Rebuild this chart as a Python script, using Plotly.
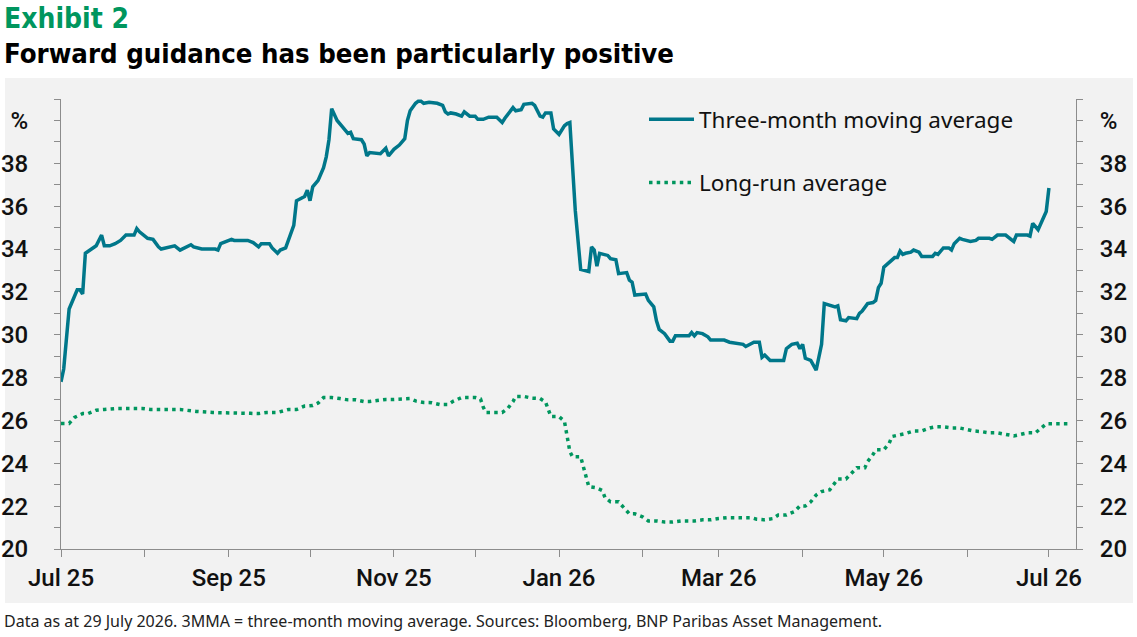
import pandas as pd
import plotly.graph_objects as go

# ---------------- data ----------------
START = "2025-07-01"  # day offsets below are days since this date

mma_day = [0, 1, 3, 6, 7, 8, 9, 11, 13, 15, 16, 18, 20, 22, 24, 27, 28, 29, 32, 34,
           36, 37, 42, 44, 48, 49, 52, 57, 58, 59, 63, 64, 69, 71, 73, 74, 77, 78, 79, 80,
           81, 83, 86, 87, 90, 91, 92, 93, 95, 97, 98, 99, 100, 102, 104, 106, 107, 108, 111, 112,
           113, 114, 118, 120, 121, 123, 125, 127, 128, 129, 131, 132, 133, 134, 136, 139, 141, 142, 143, 144,
           146, 148, 149, 151, 153, 154, 156, 158, 161, 163, 164, 167, 168, 170, 171, 174, 175, 177, 178, 179,
           181, 182, 184, 186, 187, 188, 190, 192, 195, 196, 197, 198, 199, 202, 203, 205, 206, 209, 210, 211,
           212, 216, 217, 219, 220, 221, 223, 225, 226, 227, 232, 233, 234, 235, 237, 239, 240, 245, 247, 251,
           252, 253, 256, 258, 259, 260, 262, 267, 268, 270, 272, 273, 274, 275, 277, 279, 281, 282, 286, 287,
           288, 290, 291, 294, 295, 296, 298, 300, 301, 302, 303, 304, 306, 308, 309, 310, 311, 312, 314, 315,
           317, 318, 322, 323, 324, 326, 328, 329, 330, 331, 332, 333, 336, 338, 339, 343, 344, 346, 349, 351,
           352, 353, 357, 358, 359, 361, 363, 364, 365]
mma_val = [27.8, 28.4, 31.2, 32.1, 32.1, 31.9, 33.8, 34.0, 34.15, 34.65, 34.15, 34.15, 34.25, 34.4, 34.65, 34.65, 34.95, 34.8, 34.5, 34.45,
           34.1, 34.0, 34.15, 33.95, 34.2, 34.1, 34.0, 34.0, 33.95, 34.25, 34.45, 34.4, 34.4, 34.3, 34.1, 34.25, 34.25, 34.05, 33.95, 33.8,
           33.95, 34.05, 35.1, 36.25, 36.45, 36.75, 36.25, 36.9, 37.2, 37.8, 38.3, 39.1, 40.55, 40.0, 39.7, 39.4, 39.45, 39.15, 39.1, 38.9,
           38.35, 38.5, 38.45, 38.7, 38.35, 38.65, 38.85, 39.15, 40.0, 40.45, 40.8, 40.9, 40.9, 40.8, 40.85, 40.8, 40.7, 40.4, 40.3, 40.35,
           40.3, 40.2, 40.4, 40.2, 40.2, 40.05, 40.05, 40.15, 40.15, 39.9, 40.1, 40.6, 40.45, 40.5, 40.75, 40.8, 40.7, 40.2, 40.15, 40.35,
           40.35, 39.6, 39.35, 39.75, 39.85, 39.9, 35.8, 33.05, 32.95, 34.1, 33.95, 33.2, 33.8, 33.7, 33.55, 33.5, 32.85, 32.9, 32.55, 32.45,
           31.85, 31.9, 31.6, 31.3, 30.65, 30.25, 30.05, 29.7, 29.7, 29.95, 29.95, 30.1, 29.95, 30.1, 30.05, 29.9, 29.75, 29.75, 29.65, 29.55,
           29.55, 29.45, 29.65, 29.65, 28.95, 29.05, 28.8, 28.8, 29.35, 29.55, 29.6, 29.35, 29.55, 28.9, 28.8, 28.35, 29.55, 31.45, 31.3, 31.35,
           30.7, 30.65, 30.8, 30.75, 31.0, 31.1, 31.45, 31.5, 31.6, 32.2, 32.4, 33.15, 33.35, 33.6, 33.6, 33.9, 33.75, 33.8, 33.85, 33.95,
           33.85, 33.65, 33.65, 33.8, 33.75, 34.05, 34.05, 33.95, 34.25, 34.35, 34.5, 34.45, 34.35, 34.4, 34.5, 34.5, 34.45, 34.65, 34.65, 34.45,
           34.35, 34.65, 34.65, 34.6, 35.2, 34.9, 35.45, 35.75, 36.85]

lr_day = [0, 3, 5, 8, 10, 13, 16, 21, 30, 33, 44, 47, 50, 56, 66, 70, 73, 76, 80, 82,
          84, 87, 90, 93, 95, 97, 100, 103, 106, 109, 112, 114, 117, 120, 123, 126, 129, 131, 134, 137,
          140, 143, 145, 148, 153, 155, 156, 157, 163, 165, 167, 168, 171, 174, 177, 179, 180, 181, 184, 186,
          188, 189, 192, 195, 198, 200, 201, 203, 206, 208, 210, 212, 215, 217, 220, 223, 226, 229, 234, 237,
          240, 243, 246, 255, 257, 260, 263, 265, 268, 271, 273, 275, 277, 279, 281, 284, 286, 287, 290, 292,
          294, 297, 298, 300, 301, 304, 306, 307, 310, 312, 315, 318, 321, 323, 326, 329, 332, 335, 337, 340,
          343, 346, 349, 352, 354, 357, 360, 362, 364, 373]
lr_val = [25.86, 25.86, 26.14, 26.32, 26.32, 26.48, 26.51, 26.56, 26.56, 26.51, 26.51, 26.46, 26.42, 26.37, 26.37, 26.33, 26.32, 26.37, 26.37, 26.44,
          26.51, 26.51, 26.67, 26.70, 26.81, 27.07, 27.07, 27.02, 26.96, 26.96, 26.88, 26.88, 26.94, 26.98, 26.98, 27.02, 27.02, 26.91, 26.84, 26.83,
          26.74, 26.74, 26.90, 27.07, 27.07, 27.0, 26.62, 26.37, 26.37, 26.55, 26.88, 27.12, 27.12, 27.04, 27.02, 26.86, 26.51, 26.18, 26.18, 25.96,
          24.55, 24.30, 24.30, 22.91, 22.85, 22.73, 22.40, 22.20, 22.20, 21.92, 21.64, 21.64, 21.49, 21.31, 21.31, 21.26, 21.26, 21.31, 21.31, 21.36,
          21.36, 21.42, 21.46, 21.46, 21.39, 21.36, 21.42, 21.59, 21.59, 21.75, 22.01, 22.01, 22.20, 22.52, 22.68, 22.76, 23.06, 23.27, 23.27, 23.55,
          23.79, 23.79, 24.08, 24.41, 24.63, 24.63, 24.94, 25.25, 25.33, 25.39, 25.51, 25.51, 25.65, 25.70, 25.70, 25.65, 25.65, 25.56, 25.51, 25.48,
          25.42, 25.42, 25.33, 25.28, 25.33, 25.42, 25.42, 25.64, 25.84, 25.84]

month_ticks = ["2025-07-01", "2025-08-01", "2025-09-01", "2025-10-01", "2025-11-01", "2025-12-01",
               "2026-01-01", "2026-02-01", "2026-03-01", "2026-04-01", "2026-05-01", "2026-06-01", "2026-07-01"]
month_labels = ["Jul 25", "", "Sep 25", "", "Nov 25", "", "Jan 26", "", "Mar 26", "", "May 26", "", "Jul 26"]

y_ticks = [20, 22, 24, 26, 28, 30, 32, 34, 36, 38, 40]
y_labels = ["20", "22", "24", "26", "28", "30", "32", "34", "36", "38", "%"]

x_range = ["2025-07-01", "2026-07-11"]
y_range = [20, 41]

# ---------------- build figure ----------------
start = pd.Timestamp(START)
mma_dates = [(start + pd.Timedelta(days=d)).strftime("%Y-%m-%d") for d in mma_day]
lr_dates = [(start + pd.Timedelta(days=d)).strftime("%Y-%m-%d") for d in lr_day]

TEAL = "#00778a"
GREEN = "#00965e"
GREY = "#8c8c8c"
BG = "#f2f2f2"
FONT = "Noto Sans, Open Sans, sans-serif"
TICKFONT = dict(family="Roboto, Noto Sans, sans-serif", size=24, color="#111111", weight=500)
NARROW = "Liberation Sans Narrow, Arial Narrow, DejaVu Sans Condensed, sans-serif"

fig = go.Figure()
fig.add_trace(go.Scatter(
    x=mma_dates, y=mma_val, mode="lines", name="Three-month moving average",
    line=dict(color=TEAL, width=3.5), legendgroup="a", yaxis="y"))
fig.add_trace(go.Scatter(
    x=lr_dates, y=lr_val, mode="lines", name="Long-run average",
    line=dict(color=GREEN, width=3.5, dash="3.5px,4.2px"), legendgroup="b", yaxis="y2"))

W, H = 1137, 637
ml, mr, mt, mb = 61, 61, 99, 88
pw, ph = W - ml - mr, H - mt - mb


def px_x(px):
    return (px - ml) / pw


def px_y(py):
    return (H - mb - py) / ph


axis_common = dict(
    range=y_range, tickvals=y_ticks, ticktext=y_labels,
    showline=True, linecolor=GREY, linewidth=1,
    ticks="outside", ticklen=6, tickcolor=GREY, tickwidth=1,
    minor=dict(dtick=1, tick0=20, ticks="outside", ticklen=6, tickcolor=GREY, tickwidth=1),
    showgrid=False, zeroline=False, fixedrange=True, automargin=False,
    tickfont=TICKFONT,
)

fig.update_layout(
    width=W, height=H,
    margin=dict(l=ml, r=mr, t=mt, b=mb, pad=0),
    paper_bgcolor="white", plot_bgcolor=BG,
    showlegend=True,
    legend=dict(x=px_x(644), y=px_y(98), xanchor="left", yanchor="top",
                bgcolor="rgba(0,0,0,0)", tracegroupgap=31, itemwidth=45,
                font=dict(family=FONT, size=22.5, color="#111111")),
    xaxis=dict(
        type="date", range=x_range, tickvals=month_ticks, ticktext=month_labels,
        showline=True, linecolor=GREY, linewidth=1,
        ticks="outside", ticklen=7, tickcolor=GREY,
        showgrid=False, zeroline=False, automargin=False, fixedrange=True,
        tickfont=TICKFONT,
    ),
    yaxis=dict(side="left", ticklabelstandoff=21, **axis_common),
    yaxis2=dict(side="right", overlaying="y", matches="y", ticklabelstandoff=12, **axis_common),
    shapes=[dict(type="rect", xref="paper", yref="paper", layer="below",
                 x0=px_x(5), x1=px_x(1133), y0=px_y(603), y1=px_y(78),
                 fillcolor=BG, line=dict(width=0))],
    annotations=[
        dict(text="<b>Exhibit 2</b>", xref="paper", yref="paper", x=px_x(2), y=px_y(18),
             xanchor="left", yanchor="middle", showarrow=False,
             font=dict(family=NARROW, size=28, color=GREEN)),
        dict(text="<b>Forward guidance has been particularly positive</b>", xref="paper", yref="paper",
             x=px_x(2), y=px_y(53), xanchor="left", yanchor="middle", showarrow=False,
             font=dict(family=NARROW, size=27.3, color="#000000")),
        dict(text="Data as at 29 July 2026. 3MMA = three-month moving average. Sources: Bloomberg, BNP Paribas Asset Management.",
             xref="paper", yref="paper", x=px_x(2), y=px_y(621), xanchor="left", yanchor="middle",
             showarrow=False, font=dict(family=FONT, size=16, color="#222222")),
    ],
)

fig.write_html("out.html", config={"displayModeBar": False},
               post_script="document.body.style.margin='0';")
